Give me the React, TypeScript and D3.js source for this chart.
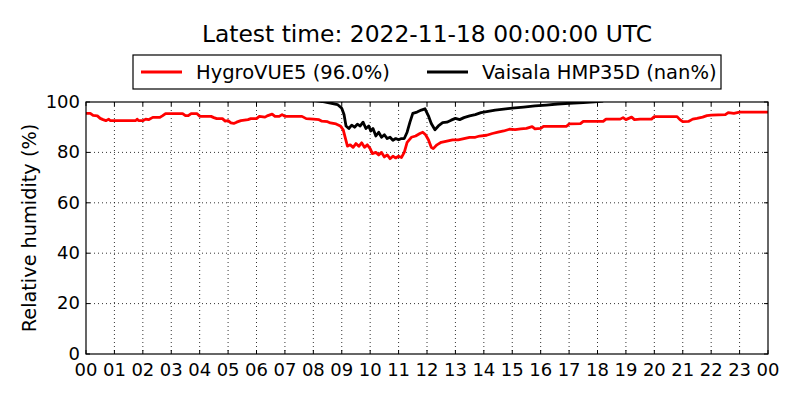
import { useRef, useEffect } from 'react';
import * as d3 from 'd3';

// HygroVUE5 (hours since 00 UTC, RH %)
const hygroHours = [
  0, 0.15, 0.25, 0.4, 0.5, 0.6, 0.7, 0.8, 0.85, 1, 1.2, 1.4, 1.6, 1.75, 1.8, 1.85, 2, 2.1, 2.2, 2.35,
  2.6, 2.7, 2.8, 3, 3.4, 3.5, 3.6, 3.7, 3.9, 4, 4.4, 4.5, 4.6, 4.8, 4.9, 5, 5.1, 5.2, 5.3, 5.45,
  5.7, 5.8, 6, 6.1, 6.3, 6.4, 6.55, 6.65, 6.8, 6.9, 7, 7.4, 7.6, 7.75, 8, 8.2, 8.3, 8.5, 8.6, 8.8,
  8.95, 9.05, 9.12, 9.2, 9.3, 9.4, 9.5, 9.6, 9.7, 9.8, 9.9, 10, 10.08, 10.2, 10.3, 10.4, 10.5, 10.6, 10.7, 10.8,
  10.9, 11, 11.1, 11.2, 11.3, 11.45, 11.6, 11.75, 11.85, 11.95, 12.05, 12.15, 12.22, 12.35, 12.5, 12.7, 12.9, 13.1, 13.3, 13.5,
  13.7, 13.85, 14.1, 14.3, 14.5, 14.7, 14.9, 15.1, 15.3, 15.5, 15.7, 15.8, 16, 16.1, 16.5, 16.9, 17, 17.4, 17.5, 18.2,
  18.3, 18.8, 18.9, 19, 19.2, 19.3, 19.5, 19.9, 20, 20.8, 20.9, 21, 21.2, 21.35, 21.5, 21.7, 21.85, 22, 22.5, 22.6,
  22.8, 23, 24,
];
const hygroValues = [
  95.5, 95.5, 94.7, 94.5, 93.5, 93.0, 92.6, 93.2, 92.6, 92.6, 92.6, 92.6, 92.6, 92.6, 93.2, 92.6, 92.6, 93.2, 93.0, 93.9,
  93.9, 94.6, 95.4, 95.4, 95.4, 94.6, 94.6, 95.4, 95.4, 94.3, 94.3, 93.8, 93.4, 93.4, 92.4, 92.6, 91.7, 91.5, 92.0, 92.6,
  93.0, 93.4, 93.4, 94.3, 94.0, 94.6, 95.2, 94.3, 94.3, 95.0, 94.3, 94.3, 94.3, 93.4, 93.2, 93.0, 92.4, 92.2, 91.7, 91.3,
  90.5, 89.0, 86.0, 82.5, 83.0, 82.0, 83.5, 82.4, 83.8, 82.0, 83.0, 81.5, 79.5, 80.0, 79.0, 80.0, 78.2, 79.0, 77.5, 78.5,
  77.8, 78.5, 78.0, 80.0, 84.0, 86.0, 86.5, 87.5, 88.0, 87.0, 85.0, 82.0, 81.5, 83.0, 84.0, 84.5, 85.0, 85.0, 85.5, 86.0,
  86.0, 86.5, 86.8, 87.5, 88.0, 88.5, 89.2, 89.0, 89.3, 89.5, 90.2, 89.3, 89.5, 90.3, 90.3, 90.3, 91.3, 91.4, 92.3, 92.3,
  93.2, 93.2, 93.8, 93.0, 94.0, 93.0, 93.2, 93.2, 94.2, 94.2, 93.0, 92.2, 92.3, 93.2, 93.5, 94.0, 94.6, 94.8, 95.0, 95.8,
  95.5, 96.0, 96.0,
];

// Vaisala HMP35D (only visible while below 100 %)
const vaisalaHours = [
  7.9, 8.3, 8.6, 8.85, 9, 9.08, 9.15, 9.25, 9.35, 9.45, 9.55, 9.65, 9.75, 9.85, 9.95, 10.02, 10.1, 10.2, 10.3, 10.4,
  10.5, 10.6, 10.7, 10.8, 10.9, 11, 11.1, 11.2, 11.3, 11.4, 11.5, 11.65, 11.8, 11.93, 12.05, 12.15, 12.28, 12.4, 12.55, 12.7,
  12.85, 13, 13.15, 13.3, 13.5, 13.7, 13.9, 14.1, 14.4, 14.7, 15, 15.4, 15.8, 16.2, 16.6, 17, 17.5, 17.9, 18.2,
];
const vaisalaValues = [
  100.8, 100.2, 99.6, 99.0, 97.5, 95.0, 90.5, 89.5, 90.8, 90.0, 91.2, 90.5, 92.0, 89.5, 90.5, 88.5, 89.5, 86.5, 88.0, 86.0,
  87.0, 85.5, 86.0, 84.8, 85.5, 85.0, 85.5, 85.5, 88.0, 92.0, 95.5, 96.0, 96.8, 97.3, 94.5, 91.5, 89.0, 90.5, 91.8, 92.0,
  92.8, 93.5, 93.0, 93.8, 94.5, 95.0, 95.8, 96.2, 96.8, 97.2, 97.6, 98.0, 98.5, 98.8, 99.2, 99.5, 99.8, 100.1, 100.4,
];

const xTicks = d3.range(0, 25);
const yTicks = [0, 20, 40, 60, 80, 100];

const title = 'Latest time: 2022-11-18 00:00:00 UTC';
const legendLabels = ['HygroVUE5 (96.0%)', 'Vaisala HMP35D (nan%)'];
const seriesColors = ['#ff0000', '#000000'];

export default function App() {
  const svgRef = useRef<SVGSVGElement>(null);

  useEffect(() => {
    if (!svgRef.current) return;
    const svg = d3.select(svgRef.current);
    svg.selectAll('*').remove();

    const width = 800;
    const height = 400;
    const margin = { top: 102, right: 32, bottom: 46, left: 86 };
    const innerW = width - margin.left - margin.right;
    const innerH = height - margin.top - margin.bottom;
    const font = 'DejaVu Sans, sans-serif';

    svg.attr('width', width).attr('height', height);
    svg.append('rect').attr('width', width).attr('height', height).attr('fill', '#fff');

    const g = svg.append('g').attr('transform', `translate(${margin.left},${margin.top})`);

    const x = d3.scaleLinear().domain([0, 24]).range([0, innerW]);
    const y = d3.scaleLinear().domain([0, 100]).range([innerH, 0]);

    svg.append('defs').append('clipPath').attr('id', 'plot-clip')
      .append('rect').attr('width', innerW).attr('height', innerH);

    // Dotted grid
    g.append('g')
      .selectAll('line')
      .data(xTicks.slice(1, -1))
      .enter()
      .append('line')
      .attr('x1', (d) => x(d)).attr('x2', (d) => x(d))
      .attr('y1', 0).attr('y2', innerH)
      .attr('stroke', '#000').attr('stroke-width', 0.8).attr('stroke-dasharray', '1,3');
    g.append('g')
      .selectAll('line')
      .data(yTicks.slice(1, -1))
      .enter()
      .append('line')
      .attr('x1', 0).attr('x2', innerW)
      .attr('y1', (d) => y(d)).attr('y2', (d) => y(d))
      .attr('stroke', '#000').attr('stroke-width', 0.8).attr('stroke-dasharray', '1,3');

    // Series
    const line = d3.line<[number, number]>()
      .x((d) => x(d[0]))
      .y((d) => y(d[1]));

    const hygro = hygroHours.map((h, i) => [h, hygroValues[i]] as [number, number]);
    const vaisala = vaisalaHours.map((h, i) => [h, vaisalaValues[i]] as [number, number]);

    const lines = g.append('g').attr('clip-path', 'url(#plot-clip)');
    lines.append('path')
      .attr('d', line(hygro))
      .attr('fill', 'none')
      .attr('stroke', seriesColors[0])
      .attr('stroke-width', 2.8)
      .attr('stroke-linejoin', 'round');
    lines.append('path')
      .attr('d', line(vaisala))
      .attr('fill', 'none')
      .attr('stroke', seriesColors[1])
      .attr('stroke-width', 2.8)
      .attr('stroke-linejoin', 'round');

    // Inward ticks on all four sides
    const tickLen = 4;
    const ticks = g.append('g').attr('stroke', '#000').attr('stroke-width', 1);
    xTicks.forEach((t) => {
      ticks.append('line').attr('x1', x(t)).attr('x2', x(t)).attr('y1', innerH).attr('y2', innerH - tickLen);
      ticks.append('line').attr('x1', x(t)).attr('x2', x(t)).attr('y1', 0).attr('y2', tickLen);
    });
    yTicks.forEach((t) => {
      ticks.append('line').attr('x1', 0).attr('x2', tickLen).attr('y1', y(t)).attr('y2', y(t));
      ticks.append('line').attr('x1', innerW).attr('x2', innerW - tickLen).attr('y1', y(t)).attr('y2', y(t));
    });

    // Frame
    g.append('rect')
      .attr('width', innerW).attr('height', innerH)
      .attr('fill', 'none').attr('stroke', '#000').attr('stroke-width', 1.2);

    // Tick labels
    g.append('g')
      .selectAll('text')
      .data(xTicks)
      .enter()
      .append('text')
      .attr('x', (d) => x(d))
      .attr('y', innerH + 22)
      .attr('text-anchor', 'middle')
      .attr('font-family', font)
      .attr('font-size', 18)
      .text((d) => String(d % 24).padStart(2, '0'));

    g.append('g')
      .selectAll('text')
      .data(yTicks)
      .enter()
      .append('text')
      .attr('x', -6)
      .attr('y', (d) => y(d))
      .attr('dy', '0.32em')
      .attr('text-anchor', 'end')
      .attr('font-family', font)
      .attr('font-size', 18)
      .text((d) => String(d));

    // Y label
    svg.append('text')
      .attr('transform', `translate(36,${margin.top + innerH / 2}) rotate(-90)`)
      .attr('text-anchor', 'middle')
      .attr('font-family', font)
      .attr('font-size', 19.3)
      .text('Relative humidity (%)');

    // Title
    svg.append('text')
      .attr('x', margin.left + innerW / 2)
      .attr('y', 42)
      .attr('text-anchor', 'middle')
      .attr('font-family', font)
      .attr('font-size', 23.4)
      .text(title);

    // Legend
    const legend = svg.append('g').attr('transform', 'translate(133,55)');
    legend.append('rect')
      .attr('width', 588).attr('height', 34)
      .attr('fill', '#fff').attr('stroke', '#000').attr('stroke-width', 1.2);
    const entryX = [8, 294];
    legendLabels.forEach((label, i) => {
      legend.append('line')
        .attr('x1', entryX[i]).attr('x2', entryX[i] + 41)
        .attr('y1', 17).attr('y2', 17)
        .attr('stroke', seriesColors[i]).attr('stroke-width', 2.8);
      legend.append('text')
        .attr('x', entryX[i] + 55)
        .attr('y', 17)
        .attr('dy', '0.35em')
        .attr('font-family', font)
        .attr('font-size', 19.5)
        .text(label);
    });
  }, []);

  return (
    <svg
      ref={svgRef}
      style={{ position: 'absolute', left: 0, top: 0, display: 'block' }}
    />
  );
}
